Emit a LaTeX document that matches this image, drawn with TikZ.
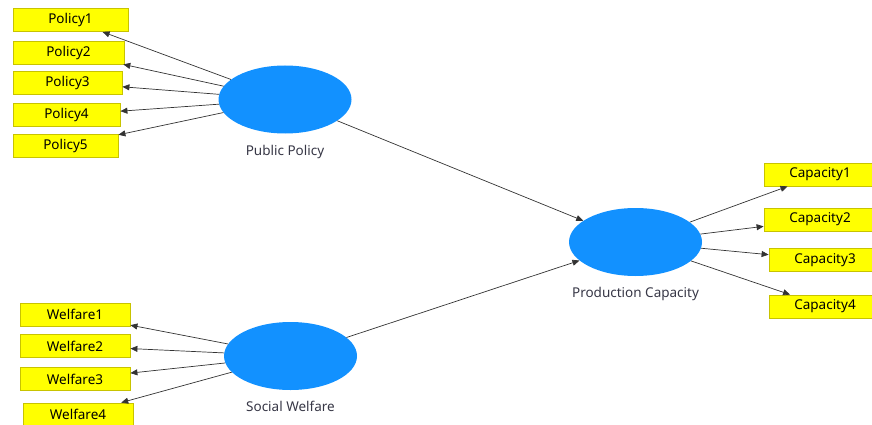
\documentclass[tikz,border=0pt]{standalone}
\usepackage{fontspec}
\setmainfont{Noto Sans}
\usepackage{xcolor}
\usetikzlibrary{arrows.meta, positioning, shapes.geometric}

\definecolor{lvblue}{RGB}{18,145,255}
\definecolor{indyellow}{RGB}{255,255,0}
\definecolor{indedge}{RGB}{200,195,0}
\definecolor{lblgray}{RGB}{55,55,70}

\begin{document}
\begin{tikzpicture}[x=1pt, y=-1pt,
      latent/.style={ellipse, fill=lvblue, minimum width=133pt, minimum height=68pt, inner sep=0pt},
      indbox/.style={rectangle, draw=indedge, fill=indyellow, line width=0.8pt, minimum height=23pt, inner sep=0pt, font=\fontsize{13.5}{16}\selectfont},
      lvlabel/.style={inner sep=0pt, text=lblgray, font=\fontsize{13.5}{16}\selectfont},
      arr/.style={-{Triangle[length=7pt, width=6pt]}, draw=black!80, line width=0.7pt}]
      \useasboundingbox (0,0) rectangle (872,425);
      % constructs
      \node[latent] (pp) at (285,99.5) {};
      \node[latent] (sw) at (290.5,356) {};
      \node[latent] (pc) at (635.5,242) {};
      \node[lvlabel, below=11pt of pp] (pplbl) {Public Policy};
      \node[lvlabel, below=11pt of sw] (swlbl) {Social Welfare};
      \node[lvlabel, below=11pt of pc] (pclbl) {Production Capacity};
      % indicators
      \node[indbox, minimum width=115pt] (pol1) at (70.5,20) {Policy1};
      \node[indbox, minimum width=111pt] (pol2) at (68.5,52.5) {Policy2};
      \node[indbox, minimum width=109pt] (pol3) at (67.5,82.5) {Policy3};
      \node[indbox, minimum width=107pt] (pol4) at (66.5,115) {Policy4};
      \node[indbox, minimum width=105pt] (pol5) at (65.5,146) {Policy5};
      \node[indbox, minimum width=110pt] (wel1) at (75,314.5) {Welfare1};
      \node[indbox, minimum width=110pt] (wel2) at (75,346) {Welfare2};
      \node[indbox, minimum width=110pt] (wel3) at (75,379) {Welfare3};
      \node[indbox, minimum width=110pt] (wel4) at (78,414.5) {Welfare4};
      \node[indbox, minimum width=112pt] (cap1) at (820,174.5) {Capacity1};
      \node[indbox, minimum width=112pt] (cap2) at (820,219.5) {Capacity2};
      \node[indbox, minimum width=112pt] (cap3) at (825,260) {Capacity3};
      \node[indbox, minimum width=112pt] (cap4) at (825,306.5) {Capacity4};
      % loadings
      \draw[arr] (pp) -- (pol1); \draw[arr] (pp) -- (pol2);
      \draw[arr] (pp) -- (pol3); \draw[arr] (pp) -- (pol4);
      \draw[arr] (pp) -- (pol5);
      \draw[arr] (sw) -- (wel1); \draw[arr] (sw) -- (wel2);
      \draw[arr] (sw) -- (wel3); \draw[arr] (sw) -- (wel4);
      \draw[arr] (pc) -- (cap1); \draw[arr] (pc) -- (cap2);
      \draw[arr] (pc) -- (cap3); \draw[arr] (pc) -- (cap4);
      % paths
      \draw[arr] (pp) -- (pc); \draw[arr] (sw) -- (pc);
    \end{tikzpicture}
\end{document}
